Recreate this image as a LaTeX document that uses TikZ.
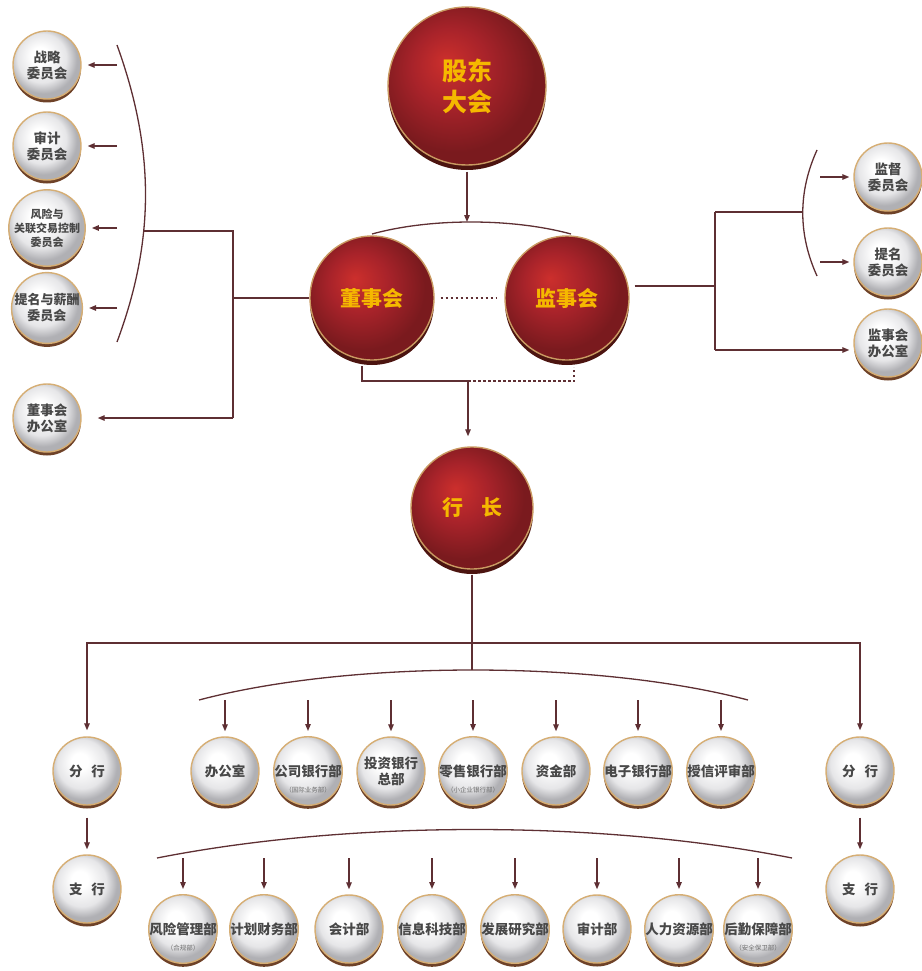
\documentclass[tikz,border=0pt]{standalone}
\usepackage{fontspec}
\setmainfont{Noto Sans CJK SC}
\usetikzlibrary{arrows.meta,shadows}

\definecolor{wirec}{HTML}{5E2F33}
\definecolor{rim}{HTML}{D6AE74}
\definecolor{rimdark}{HTML}{6E4228}
\definecolor{redrim}{HTML}{C99A62}
\definecolor{reddark}{HTML}{4C1410}
\definecolor{gold}{HTML}{F5B800}
\definecolor{ink}{HTML}{484848}
\definecolor{redA}{HTML}{CC2F2C}
\definecolor{redB}{HTML}{A8232A}
\definecolor{redC}{HTML}{7A1A1E}
\definecolor{silA}{HTML}{FFFFFF}
\definecolor{silB}{HTML}{E6E6E8}
\definecolor{silC}{HTML}{B0B0B4}

\pgfdeclareradialshading{silverball}{\pgfpoint{-6bp}{8bp}}{color(0bp)=(silA); color(6bp)=(silA); color(18bp)=(silB); color(25bp)=(silC); color(50bp)=(silC)}
\pgfdeclareradialshading{redball}{\pgfpoint{-7bp}{8bp}}{color(0bp)=(redA); color(12bp)=(redB); color(25bp)=(redC); color(50bp)=(redC)}

\tikzset{
  coin/.style={circle, inner sep=0pt, align=center, line width=1.4pt},
  silver/.style={coin, minimum size=68pt, shade, shading=silverball, draw=rim,
    drop shadow={shadow xshift=0pt, shadow yshift=-3.5pt, fill=rimdark, opacity=1},
    text=ink, font=\fontsize{13.5}{16}\selectfont\bfseries},
  ruby/.style={coin, shade, shading=redball, draw=redrim,
    drop shadow={shadow xshift=0pt, shadow yshift=-5pt, fill=reddark, opacity=1},
    text=gold},
  wire/.style={draw=wirec, line width=1.3pt},
  arr/.style={wire, -{Triangle[length=7pt,width=5.5pt]}},
  dots/.style={draw=wirec, line width=1.2pt, dash pattern=on 2.5pt off 2.5pt},
  note/.style={inner sep=0pt, text=ink!80, font=\fontsize{6.5}{7}\selectfont},
}

\begin{document}
\begin{tikzpicture}[x=1pt,y=-1pt]
\useasboundingbox (0,0) rectangle (921,971);

% governing bodies
\node[ruby, minimum size=158pt, font=\fontsize{25}{31}\selectfont\bfseries] (gd) at (467,86) {股东\\大会};
\node[ruby, minimum size=124pt, font=\fontsize{21}{25}\selectfont\bfseries] (dsh) at (372,298) {董事会};
\node[ruby, minimum size=124pt, font=\fontsize{21}{25}\selectfont\bfseries] (jsh) at (567,298) {监事会};
\node[ruby, minimum size=122pt, font=\fontsize{21}{25}\selectfont\bfseries] (hz) at (472,508) {行\hspace{18pt}长};

% board committees
\node[silver] (s1) at (47,65)  {战略\\委员会};
\node[silver] (s2) at (47,146) {审计\\委员会};
\node[silver, font=\fontsize{11}{14}\selectfont\bfseries] (s3) at (47,228) {风险与\\关联交易控制\\委员会};
\node[silver, font=\fontsize{13}{16}\selectfont\bfseries] (s4) at (47,308) {提名与薪酬\\委员会};
\node[silver] (s5) at (47,418) {董事会\\办公室};

% supervisory committees
\node[silver] (r1) at (888,177) {监督\\委员会};
\node[silver] (r2) at (888,262) {提名\\委员会};
\node[silver] (r3) at (888,343) {监事会\\办公室};

% branches
\node[silver] (fh1) at (87,771)  {分\hspace{9pt}行};
\node[silver] (zh1) at (87,889)  {支\hspace{9pt}行};
\node[silver] (fh2) at (860,771) {分\hspace{9pt}行};
\node[silver] (zh2) at (860,889) {支\hspace{9pt}行};

% head-office departments, upper row
\node[silver] (t1) at (225,771) {办公室};
\node[silver] (t2) at (308,771) {公司银行部};
\node[silver] (t3) at (391,771) {投资银行\\总部};
\node[silver] (t4) at (473,771) {零售银行部};
\node[silver] (t5) at (556,771) {资金部};
\node[silver] (t6) at (638,771) {电子银行部};
\node[silver] (t7) at (721,771) {授信评审部};
\node[note] (t2n) at (308,790) {（国际业务部）};
\node[note] (t4n) at (473,790) {（小企业银行部）};

% head-office departments, lower row
\node[silver] (b1) at (183,929) {风险管理部};
\node[silver] (b2) at (264,929) {计划财务部};
\node[silver] (b3) at (349,929) {会计部};
\node[silver] (b4) at (432,929) {信息科技部};
\node[silver] (b5) at (515,929) {发展研究部};
\node[silver] (b6) at (597,929) {审计部};
\node[silver] (b7) at (679,929) {人力资源部};
\node[silver] (b8) at (758,929) {后勤保障部};
\node[note] (b1n) at (183,948) {（合规部）};
\node[note] (b8n) at (758,948) {（安全保卫部）};

% junction points
\coordinate (tarc) at (467,222);
\coordinate (arcl) at (372,234);
\coordinate (arcr) at (571,234);
\coordinate (db) at (362,366);
\coordinate (dj) at (468,381);
\coordinate (jb) at (574,367);
\coordinate (L1) at (143,231);
\coordinate (L2) at (233,231);
\coordinate (L3) at (233,418);
\coordinate (la1) at (117,65);
\coordinate (la2) at (117,146);
\coordinate (la3) at (117,228);
\coordinate (la4) at (117,308);
\coordinate (rj) at (715,286);
\coordinate (rt) at (715,212);
\coordinate (rb) at (715,350);
\coordinate (rarc) at (803,212);
\coordinate (ra1) at (820,177);
\coordinate (ra2) at (820,262);
\coordinate (bj) at (472,643);
\coordinate (upk) at (472,670);

% shareholders -> boards
\draw[arr, shorten <=6pt] (gd.south) -- (tarc);
\draw[wire] (arcl) .. controls (430,218) and (512,218) .. (arcr);
\draw[dots, shorten <=6pt, shorten >=8pt] (dsh.east) -- (jsh.west);

% boards -> president
\draw[wire] (db) |- (dj);
\draw[dots] (dj) -| (jb);
\draw[arr, shorten >=10pt] (dj) -- (dj |- hz.north);

% board of directors -> committees
\draw[wire] (dsh.west) -- (dsh.west -| L2);
\draw[wire] (L1) -- (L2) -- (L3);
\draw[arr, shorten >=16pt] (L3) -- (L3 -| s5.east);
\draw[wire] (117,45) .. controls (155,150) and (155,240) .. (117,342);
\foreach \a/\n in {la1/s1, la2/s2, la3/s3, la4/s4}
  \draw[arr, shorten >=6pt] (\a) -- (\a -| \n.east);

% supervisory board -> committees
\draw[wire, shorten <=5pt] (jsh.east |- rj) -- (rj);
\draw[wire] (rt) -- (rb);
\draw[wire] (rt) -- (rarc);
\draw[wire] (817,150) .. controls (798,192) and (798,234) .. (817,276);
\draw[arr, shorten >=4pt] (ra1) -- (ra1 -| r1.west);
\draw[arr, shorten >=4pt] (ra2) -- (ra2 -| r2.west);
\draw[arr, shorten >=4pt] (rb) -- (rb -| r3.west);

% president -> branches and departments
\draw[wire, shorten <=5pt] (hz.south) -- (upk);
\draw[arr, shorten >=6pt] (bj) -| (fh1.north);
\draw[arr, shorten >=6pt] (bj) -| (fh2.north);
\draw[arr, shorten <=12pt, shorten >=5pt] (fh1.south) -- (zh1.north);
\draw[arr, shorten <=12pt, shorten >=5pt] (fh2.south) -- (zh2.north);

\draw[wire] (199,700) .. controls (350,660) and (596,660) .. (748,700);
\foreach \n in {t1,t2,t3,t4,t5,t6,t7}
  \draw[arr, shorten >=5pt] (\n.north) ++(0,-36) -- (\n.north);

\draw[wire] (157,858) .. controls (350,820) and (600,820) .. (792,858);
\foreach \n in {b1,b2,b3,b4,b5,b6,b7,b8}
  \draw[arr, shorten >=5pt] (\n.north) ++(0,-36) -- (\n.north);
\end{tikzpicture}
\end{document}
